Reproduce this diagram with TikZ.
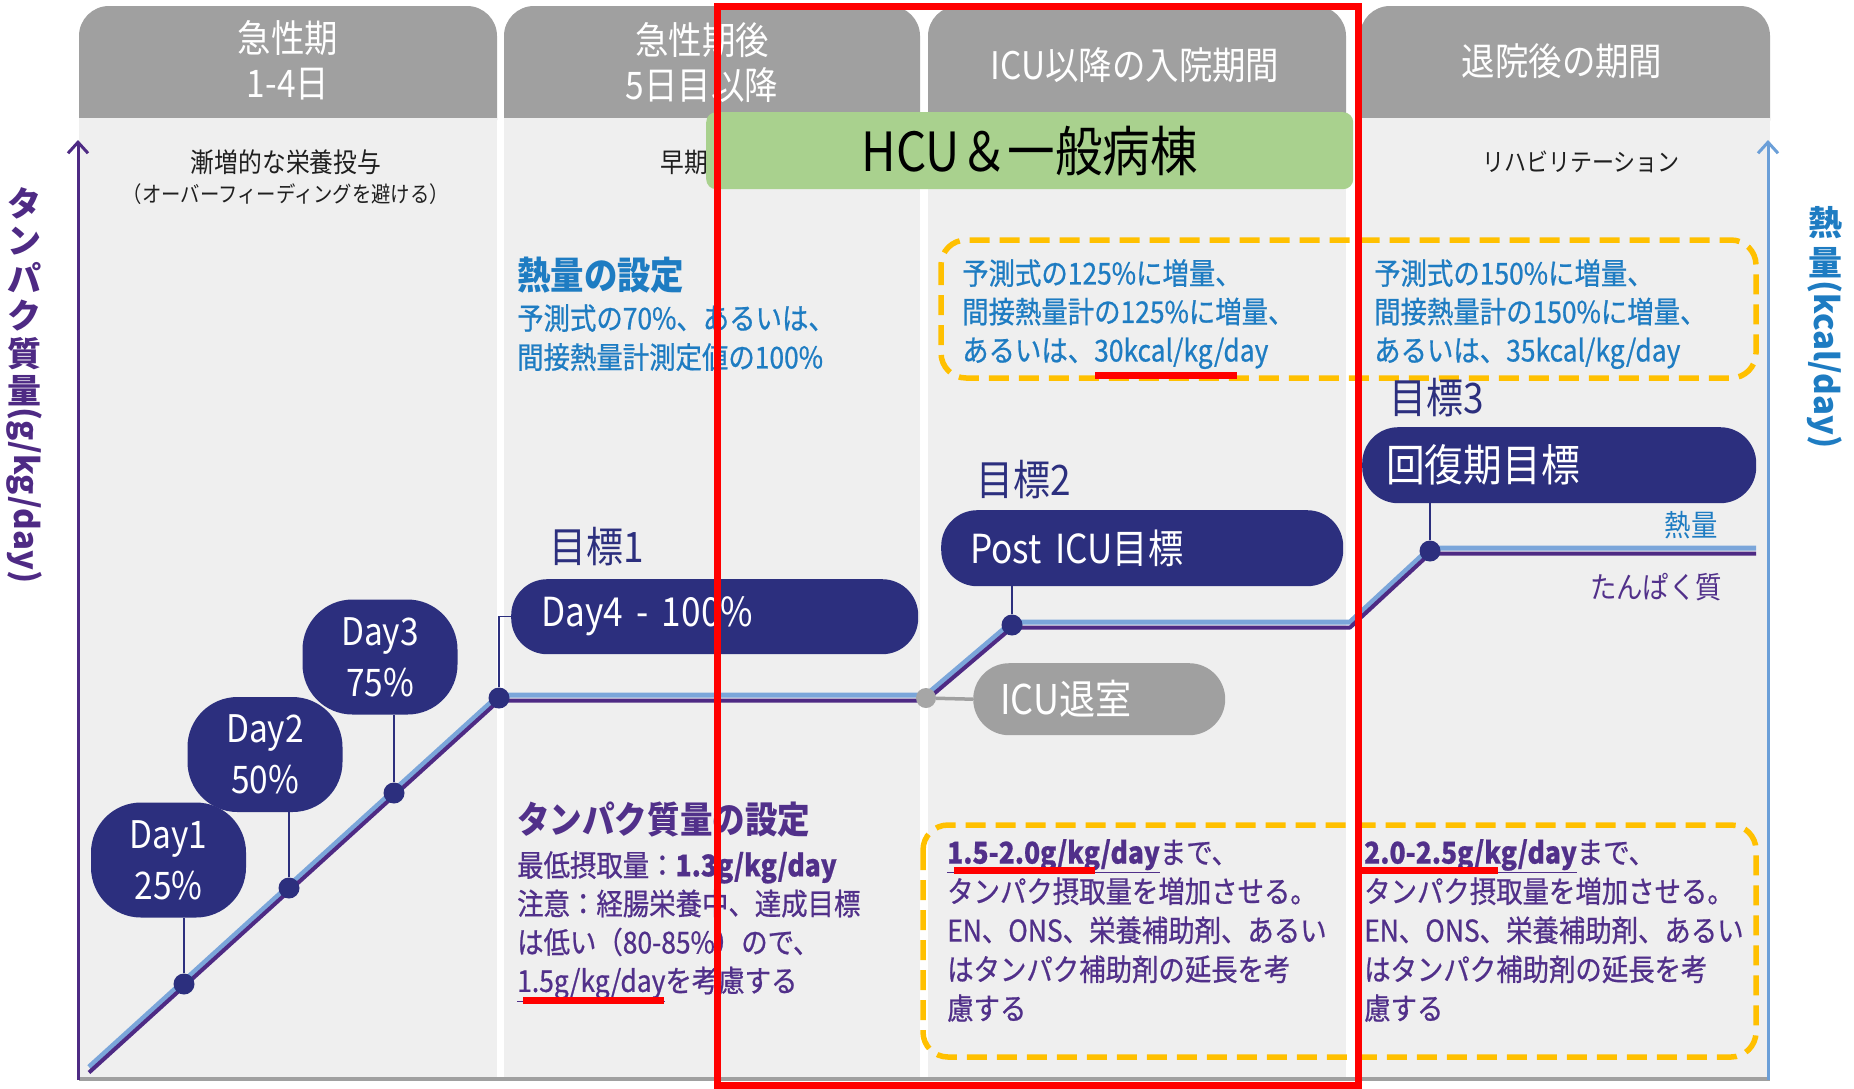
\documentclass[tikz,border=0pt]{standalone}
\usepackage{fontspec}
\setmainfont{Noto Sans CJK JP}[FakeStretch=0.88]
\newfontfamily\jpwide{Noto Sans CJK JP}
\newfontfamily\jpmed{Noto Sans CJK JP}[FakeStretch=0.88,FakeBold=0.7]
\usetikzlibrary{arrows.meta}
\definecolor{navy}{HTML}{2C2F7E}
\definecolor{ptext}{HTML}{51308A}
\definecolor{btext}{HTML}{1E7CC2}
\definecolor{lblue}{HTML}{7BA6DA}
\definecolor{axblue}{HTML}{6B9FD8}
\definecolor{pline}{HTML}{4E2A84}
\definecolor{hgray}{HTML}{A0A0A0}
\definecolor{bodyg}{HTML}{EFEFEF}
\definecolor{ybox}{HTML}{FFC000}
\definecolor{gbox}{HTML}{A9D18E}
\definecolor{dgray}{HTML}{A6A6A6}
\definecolor{redm}{HTML}{FF0000}
\newcommand{\myfs}[2]{\fontsize{#1}{#2}\selectfont}
\begin{document}
\begin{tikzpicture}[x=1pt,y=-1pt,
  hdr/.style={fill=hgray, rounded corners=30pt},
  colbody/.style={fill=bodyg},
  htext/.style={text=white, align=center, inner sep=0, font=\myfs{38}{45}},
  subt/.style={text=black!88, inner sep=0},
  ndot/.style={circle, fill=navy, minimum size=21pt, inner sep=0},
  gdot/.style={circle, fill=dgray, minimum size=20pt, inner sep=0},
  bubble/.style={fill=navy, rounded corners=50pt, minimum width=155pt, minimum height=115pt, text=white, align=center, inner sep=0, font=\myfs{38}{51}},
  pillbox/.style={fill=navy, rounded corners=36pt, text=white, inner ysep=0, align=left, anchor=north west},
  conn/.style={draw=navy, line width=1.5pt},
  ybx/.style={draw=ybox, line width=5.5pt, dash pattern=on 20pt off 10pt, rounded corners=25pt},
  goal/.style={text=navy, inner sep=0, anchor=west, font=\myfs{42}{46}},
  redbar/.style={draw=redm, line width=7pt},
  blk/.style={inner sep=0, anchor=north west, align=left},
]
\useasboundingbox (0,0) rectangle (1854,1088);
\fill[white] (0,0) rectangle (1854,1088);

% column headers and bodies
\fill[hdr] (79,6) rectangle (497,150);
\fill[hdr] (504,6) rectangle (920,150);
\fill[hdr] (928,6) rectangle (1346,150);
\fill[hdr] (1360,6) rectangle (1770,150);
\fill[colbody] (79,118) rectangle (497,1078);
\fill[colbody] (504,118) rectangle (920,1078);
\fill[colbody] (928,118) rectangle (1346,1078);
\fill[colbody] (1360,118) rectangle (1770,1078);

% axes
\draw[hgray, line width=4pt] (79,1079) -- (1770,1079);
\draw[pline, line width=3pt, -{Straight Barb[length=11pt,width=20pt]}] (78,1080) -- (78,140);
\draw[axblue, line width=3pt, -{Straight Barb[length=11pt,width=20pt]}] (1768,1080) -- (1768,140);

% axis labels
\node[anchor=north, inner sep=0, text=pline, align=center, font=\jpwide\myfs{34}{37.5}\bfseries] (ylabj) at (24,187) {タ\\ン\\パ\\ク\\質\\量};
\node[rotate=-90, anchor=west, inner sep=0, text=pline, font=\jpwide\myfs{33}{36}\bfseries] (ylabl) at (24,407) {(g/kg/day)};
\node[anchor=north, inner sep=0, text=btext, align=center, font=\jpwide\myfs{34}{40}\bfseries] (y2labj) at (1825,206) {熱\\量};
\node[rotate=-90, anchor=west, inner sep=0, text=btext, font=\jpwide\myfs{33}{36}\bfseries] (y2labl) at (1825,280) {(kcal/day)};

% header texts
\node[htext] (h1t) at (288,60) {急性期\\1-4日};
\node[htext] (h2t) at (702,63) {急性期後\\5日目以降};
\node[htext] (h3t) at (1135,65) {ICU以降の入院期間};
\node[htext] (h4t) at (1562,61) {退院後の期間};

% subtitles
\node[subt, font=\myfs{27}{30}] (s1a) at (286,162) {漸増的な栄養投与};
\node[subt, font=\myfs{22}{26}] (s1b) at (286,194) {（オーバーフィーディングを避ける）};
\node[subt, font=\myfs{27}{30}, anchor=east] (s2) at (708,162) {早期};
\node[subt, font=\myfs{25}{28}] (s4) at (1581,162) {リハビリテーション};

% green box
\node[fill=gbox, rounded corners=10pt, minimum width=647pt, minimum height=77pt, anchor=north west, inner sep=0, font=\myfs{54}{58}] (hcu) at (706,112) {HCU＆一般病棟};

% yellow dashed boxes
\draw[ybx] (941,240) rectangle (1756,378);
\draw[ybx] (923,825) rectangle (1756,1057);

% energy setting text
\node[inner sep=0, anchor=west, text=btext, font=\myfs{38}{40}\bfseries] (heath) at (517,275) {熱量の設定};
\node[blk, text=btext, font=\jpmed\myfs{30}{39}] (heatb) at (517,304) {予測式の70\%、あるいは、\\間接熱量計測定値の100\%};

% protein setting text
\node[inner sep=0, anchor=west, text=ptext, font=\myfs{37}{40}\bfseries] (proth) at (517,820) {タンパク質量の設定};
\node[blk, text=ptext, font=\jpmed\myfs{30}{38.5}] (protb) at (517,851) {最低摂取量：\textbf{1.3g/kg/day}\\注意：経腸栄養中、達成目標\\は低い（80-85\%）ので、\\\underline{1.5g/kg/day}を考慮する};

% yellow box texts (energy)
\node[blk, text=btext, font=\jpmed\myfs{30}{38.5}] (e3) at (962,259) {予測式の125\%に増量、\\間接熱量計の125\%に増量、\\あるいは、30kcal/kg/day};
\node[blk, text=btext, font=\jpmed\myfs{30}{38.5}] (e4) at (1374,259) {予測式の150\%に増量、\\間接熱量計の150\%に増量、\\あるいは、35kcal/kg/day};

% yellow box texts (protein)
\node[blk, text=ptext, font=\jpmed\myfs{30}{39}] (q3) at (947,839) {\underline{\textbf{1.5-2.0g/kg/day}}まで、\\タンパク摂取量を増加させる。\\EN、ONS、栄養補助剤、あるい\\はタンパク補助剤の延長を考\\慮する};
\node[blk, text=ptext, font=\jpmed\myfs{30}{39}] (q4) at (1364,839) {\underline{\textbf{2.0-2.5g/kg/day}}まで、\\タンパク摂取量を増加させる。\\EN、ONS、栄養補助剤、あるい\\はタンパク補助剤の延長を考\\慮する};

% path coordinates
\coordinate (c0) at (89,1070);
\coordinate (c1) at (184,984);
\coordinate (c2) at (289,888);
\coordinate (c3) at (394,793);
\coordinate (c4) at (499,698);
\coordinate (cx) at (926,698);
\coordinate (c5) at (1012,625);
\coordinate (c5b) at (1350,625);
\coordinate (c6) at (1430,551);
\coordinate (ce) at (1756,551);

\draw[lblue, line width=5pt, line join=round] ([yshift=3pt]c0) -- ([yshift=3pt]c4) -- ([yshift=3pt]cx) -- ([yshift=3pt]c5) -- ([yshift=3pt]c5b) -- ([yshift=3pt]c6) -- ([yshift=3pt]ce);
\draw[pline, line width=4pt, line join=round] ([yshift=-2.5pt]c0) -- ([yshift=-2.5pt]c4) -- ([yshift=-2.5pt]cx) -- ([yshift=-2.5pt]c5) -- ([yshift=-2.5pt]c5b) -- ([yshift=-2.5pt]c6) -- ([yshift=-2.5pt]ce);

% bubbles and pills
\node[bubble] (b1) at (168.5,860) {Day1\\25\%};
\node[bubble] (b2) at (265,754.5) {Day2\\50\%};
\node[bubble] (b3) at (380,657) {Day3\\75\%};
\node[pillbox, minimum height=75pt, inner xsep=30pt, text width=347pt, font=\myfs{40}{44}] (p1) at (511,579) {Day4 - 100\%};
\node[pillbox, minimum height=76pt, inner xsep=29pt, text width=344pt, font=\myfs{40}{44}] (p2) at (941,510) {Post ICU目標};
\node[pillbox, minimum height=76pt, inner xsep=24pt, text width=346pt, font=\myfs{44}{48}] (p3) at (1362,427) {回復期目標};
\node[pillbox, fill=hgray, minimum height=72pt, inner xsep=27pt, text width=198pt, font=\myfs{41}{45}] (pg) at (973,663) {ICU退室};

% goal labels
\node[goal] (g1) at (549,547) {目標1};
\node[goal] (g2) at (976,480) {目標2};
\node[goal] (g3) at (1389,398) {目標3};
\node[inner sep=0, text=btext, font=\myfs{30}{34}] (lbheat) at (1691,525) {熱量};
\node[inner sep=0, text=ptext, font=\myfs{30}{34}] (lbprot) at (1656,587) {たんぱく質};

% dots
\node[ndot] (d1) at (c1) {};
\node[ndot] (d2) at (c2) {};
\node[ndot] (d3) at (c3) {};
\node[ndot] (d4) at (c4) {};
\node[gdot] (dx) at (cx) {};
\node[ndot] (d5) at (c5) {};
\node[ndot] (d6) at (c6) {};

% connectors
\draw[conn] (d1) -- (d1 |- b1.south);
\draw[conn] (d2) -- (d2 |- b2.south);
\draw[conn] (d3) -- (d3 |- b3.south);
\draw[conn] (d4) |- (p1.west);
\draw[conn] (d5) -- (d5 |- p2.south);
\draw[conn] (d6) -- (d6 |- p3.south);
\draw[hgray, line width=3.5pt] (dx) -- (pg.west);

% red annotations
\draw[redbar] (1095,375) -- (1237,375);
\draw[redbar] (523,1000) -- (664,1000);
\draw[redbar] (954,870) -- (1095,870);
\draw[redbar] (1359,870) -- (1498,870);
\draw[redm, line width=7pt] (717,6) rectangle (1358,1085);
\end{tikzpicture}
\end{document}
